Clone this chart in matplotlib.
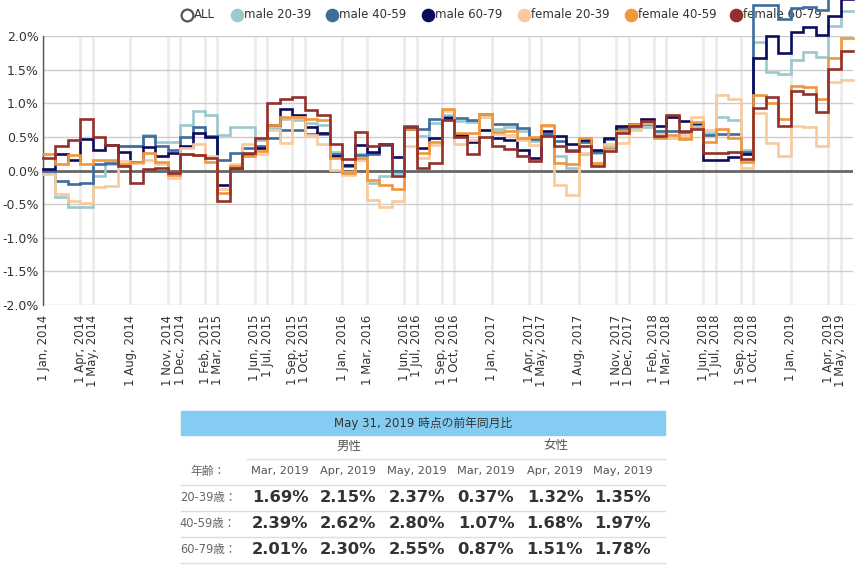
import numpy as np
import pandas as pd
import matplotlib
matplotlib.use('Agg')
import matplotlib.pyplot as plt
from matplotlib.patches import Rectangle
from matplotlib.lines import Line2D

plt.rcParams['font.family'] = ['DejaVu Sans', 'Noto Sans CJK JP']

# ---------------- data ----------------
start_month = '2014-01-01'
n_months = 65  # Jan 2014 .. May 2019

series_names = ['male 20-39', 'male 40-59', 'male 60-79',
                'female 20-39', 'female 40-59', 'female 60-79']
series_colors = ['#9cc9cd', '#3f6c9c', '#0c0c5e', '#f8ca9c', '#f0963c', '#93302c']

male_20_39 = [-0.03, -0.40, -0.55, -0.55, -0.08, 0.10, 0.37, 0.37, 0.53, 0.43, 0.42,
              0.68, 0.88, 0.82, 0.53, 0.64, 0.64, 0.46, 0.63, 0.76, 0.75,
              0.70, 0.68, 0.27, -0.02, 0.24, -0.18, -0.08, -0.03, 0.66, 0.51,
              0.70, 0.83, 0.73, 0.72, 0.80, 0.62, 0.65, 0.58, 0.44, 0.56,
              0.22, 0.04, 0.24, 0.26, 0.38, 0.58, 0.63, 0.65, 0.54, 0.48,
              0.48, 0.65, 0.56, 0.79, 0.75, 0.30, 1.91, 1.47, 1.44, 1.64,
              1.76, 1.69, 2.15, 2.37]
male_40_59 = [0.00, -0.16, -0.20, -0.19, 0.10, 0.11, 0.37, 0.37, 0.51, 0.36, 0.31,
              0.50, 0.65, 0.52, 0.16, 0.26, 0.33, 0.36, 0.49, 0.60, 0.60,
              0.55, 0.55, 0.24, 0.06, 0.23, 0.25, 0.38, 0.00, 0.66, 0.62,
              0.76, 0.80, 0.78, 0.75, 0.84, 0.69, 0.69, 0.63, 0.47, 0.55,
              0.44, 0.31, 0.42, 0.28, 0.47, 0.63, 0.68, 0.69, 0.58, 0.58,
              0.57, 0.69, 0.53, 0.54, 0.54, 0.28, 2.46, 2.46, 2.25, 2.42,
              2.43, 2.39, 2.62, 2.80]
male_60_79 = [0.02, 0.25, 0.16, 0.47, 0.31, 0.38, 0.28, 0.13, 0.35, 0.22, 0.26,
              0.37, 0.56, 0.50, -0.22, 0.04, 0.24, 0.33, 0.68, 0.92, 0.82,
              0.65, 0.56, 0.21, 0.08, 0.38, 0.27, 0.40, 0.20, 0.62, 0.33,
              0.48, 0.78, 0.53, 0.43, 0.60, 0.48, 0.45, 0.30, 0.18, 0.58,
              0.52, 0.39, 0.46, 0.30, 0.49, 0.66, 0.69, 0.77, 0.66, 0.80,
              0.74, 0.70, 0.15, 0.16, 0.20, 0.25, 1.68, 2.00, 1.74, 2.06,
              2.14, 2.01, 2.30, 2.55]
female_20_39 = [-0.05, -0.35, -0.45, -0.48, -0.25, -0.23, 0.14, 0.11, 0.16, 0.09, -0.11,
                0.34, 0.40, 0.22, -0.27, 0.10, 0.39, 0.25, 0.60, 0.41, 0.80,
                0.53, 0.40, 0.01, -0.06, 0.15, -0.44, -0.54, -0.45, 0.37, 0.19,
                0.38, 0.88, 0.40, 0.45, 0.79, 0.55, 0.53, 0.45, 0.38, 0.66,
                -0.21, -0.36, 0.26, 0.10, 0.40, 0.41, 0.60, 0.70, 0.53, 0.49,
                0.53, 0.79, 0.60, 1.13, 1.06, 0.03, 0.86, 0.41, 0.22, 0.66,
                0.64, 0.37, 1.32, 1.35]
female_40_59 = [0.25, 0.09, 0.23, 0.09, 0.16, 0.16, 0.09, 0.12, 0.26, 0.13, -0.07,
                0.25, 0.23, 0.12, -0.33, 0.06, 0.21, 0.29, 0.68, 0.79, 0.80,
                0.76, 0.75, 0.18, -0.03, 0.19, -0.14, -0.22, -0.27, 0.62, 0.26,
                0.43, 0.92, 0.56, 0.56, 0.84, 0.57, 0.58, 0.48, 0.50, 0.68,
                0.11, 0.09, 0.49, 0.11, 0.33, 0.59, 0.69, 0.72, 0.49, 0.53,
                0.47, 0.72, 0.43, 0.62, 0.49, 0.12, 1.12, 1.01, 0.76, 1.26,
                1.24, 1.07, 1.68, 1.97]
female_60_79 = [0.18, 0.37, 0.45, 0.77, 0.50, 0.38, 0.07, -0.19, 0.02, 0.04, -0.03,
                0.24, 0.23, 0.18, -0.45, 0.03, 0.26, 0.48, 1.00, 1.06, 1.10,
                0.90, 0.83, 0.39, 0.17, 0.57, 0.37, 0.40, -0.08, 0.64, 0.04,
                0.11, 0.75, 0.50, 0.25, 0.50, 0.37, 0.32, 0.22, 0.14, 0.52,
                0.36, 0.29, 0.36, 0.06, 0.29, 0.56, 0.66, 0.74, 0.52, 0.82,
                0.59, 0.62, 0.26, 0.26, 0.28, 0.17, 0.93, 1.10, 0.66, 1.18,
                1.14, 0.87, 1.51, 1.78]

series_values = [male_20_39, male_40_59, male_60_79,
                 female_20_39, female_40_59, female_60_79]

x_tick_labels = ['1 Jan, 2014', '1 Apr, 2014', '1 May, 2014', '1 Aug, 2014',
                 '1 Nov, 2014', '1 Dec, 2014', '1 Feb, 2015', '1 Mar, 2015',
                 '1 Jun, 2015', '1 Jul, 2015', '1 Sep, 2015', '1 Oct, 2015',
                 '1 Jan, 2016', '1 Mar, 2016', '1 Jun, 2016', '1 Jul, 2016',
                 '1 Sep, 2016', '1 Oct, 2016', '1 Jan, 2017', '1 Apr, 2017',
                 '1 May, 2017', '1 Aug, 2017', '1 Nov, 2017', '1 Dec, 2017',
                 '1 Feb, 2018', '1 Mar, 2018', '1 Jun, 2018', '1 Jul, 2018',
                 '1 Sep, 2018', '1 Oct, 2018', '1 Jan, 2019', '1 Apr, 2019',
                 '1 May, 2019']
y_ticks = [-2.0, -1.5, -1.0, -0.5, 0.0, 0.5, 1.0, 1.5, 2.0]

# summary table
table_title = 'May 31, 2019 時点の前年同月比'
table_groups = ['男性', '女性']
table_corner = '年齢：'
table_months = ['Mar, 2019', 'Apr, 2019', 'May, 2019', 'Mar, 2019', 'Apr, 2019', 'May, 2019']
table_rows = ['20-39歳：', '40-59歳：', '60-79歳：']
table_values = [[1.69, 2.15, 2.37, 0.37, 1.32, 1.35],
                [2.39, 2.62, 2.80, 1.07, 1.68, 1.97],
                [2.01, 2.30, 2.55, 0.87, 1.51, 1.78]]

# ---------------- figure ----------------
W, H = 860, 569
fig = plt.figure(figsize=(W / 100, H / 100), dpi=100)

def fx(px):
    return px / W

def fy(py):
    return 1 - py / H

ax = fig.add_axes([fx(43), fy(305), fx(853) - fx(43), fy(36) - fy(305)])

month0 = pd.Timestamp(start_month)
def month_index(label):
    d = pd.to_datetime(label, format='%d %b, %Y')
    return (d.year - month0.year) * 12 + (d.month - month0.month)

edges = np.arange(n_months + 1)
for name, vals, col in zip(series_names, series_values, series_colors):
    v = np.asarray(vals, dtype=float)
    ax.plot(edges, np.append(v, v[-1]), drawstyle='steps-post', color=col,
            lw=1.9, clip_on=False, zorder=5, solid_joinstyle='miter')

ax.set_xlim(0, n_months)
ax.set_ylim(-2.0, 2.0)

xt = [month_index(l) for l in x_tick_labels]
ax.set_xticks(xt)
ax.set_xticklabels(x_tick_labels, rotation=90, fontsize=8.4, color='#333333')
ax.set_yticks(y_ticks)
ax.set_yticklabels([f'{v:.1f}%' for v in y_ticks], fontsize=9, color='#333333')
ax.tick_params(axis='both', length=0)
ax.tick_params(axis='x', pad=7)
ax.tick_params(axis='y', pad=3)

for t in xt:
    ax.axvline(t, color='#ececec', lw=2, zorder=1)
for yv in y_ticks:
    ax.axhline(yv, color='#cccccc', lw=1, zorder=1)
ax.axhline(0, color='#666666', lw=2, zorder=2)

for s in ['top', 'right', 'bottom']:
    ax.spines[s].set_visible(False)
ax.spines['left'].set_color('#555555')
ax.spines['left'].set_linewidth(1)

# ---------------- legend (manual, under the lines) ----------------
legend_names = ['ALL'] + series_names
legend_colors = ['#ffffff'] + series_colors
circle_x = [187, 237, 332, 428, 524, 631, 736]
leg_y = 15
for name, col, cx in zip(legend_names, legend_colors, circle_x):
    if name == 'ALL':
        ax.plot([fx(cx)], [fy(leg_y)], marker='o', ms=8.5, mfc='white', mec='#555555',
                mew=1.6, transform=fig.transFigure, clip_on=False, zorder=3)
    else:
        ax.plot([fx(cx)], [fy(leg_y)], marker='o', ms=8.8, mfc=col, mec=col,
                transform=fig.transFigure, clip_on=False, zorder=3)
    ax.text(fx(cx + 7), fy(leg_y), name, transform=fig.transFigure, fontsize=8.5,
            color='#333333', ha='left', va='center', clip_on=False, zorder=3)

# ---------------- summary table ----------------
tl, tr = 181, 665
fig.patches.append(Rectangle((fx(tl), fy(435)), fx(tr) - fx(tl), fy(411) - fy(435),
                             transform=fig.transFigure, color='#84ccf1', zorder=0))
fig.text(fx(423), fy(423), table_title, fontsize=8.5, color='#333333',
         ha='center', va='center')

group_x = [349, 556]
for g, gx in zip(table_groups, group_x):
    fig.text(fx(gx), fy(446), g, fontsize=9, color='#555555', ha='center', va='center')

col_x = [280, 348, 417, 486, 555, 623]
fig.text(fx(208), fy(471), table_corner, fontsize=8.5, color='#666666',
         ha='center', va='center')
for m, cx in zip(table_months, col_x):
    fig.text(fx(cx), fy(471), m, fontsize=8.2, color='#555555', ha='center', va='center')

row_y = [497, 523, 549]
for rl, vals, ry in zip(table_rows, table_values, row_y):
    fig.text(fx(208), fy(ry), rl, fontsize=8.3, color='#666666', ha='center', va='center')
    for v, cx in zip(vals, col_x):
        fig.text(fx(cx), fy(ry), f'{v:.2f}%', fontsize=11.8, fontweight='bold',
                 color='#333333', ha='center', va='center')

line_specs = [(247, 459), (tl, 485), (tl, 511), (tl, 537), (tl, 563)]
for lx, ly in line_specs:
    fig.add_artist(Line2D([fx(lx), fx(tr)], [fy(ly), fy(ly)], color='#dddddd', lw=1,
                          transform=fig.transFigure))

fig.savefig('out.png', dpi=100)
